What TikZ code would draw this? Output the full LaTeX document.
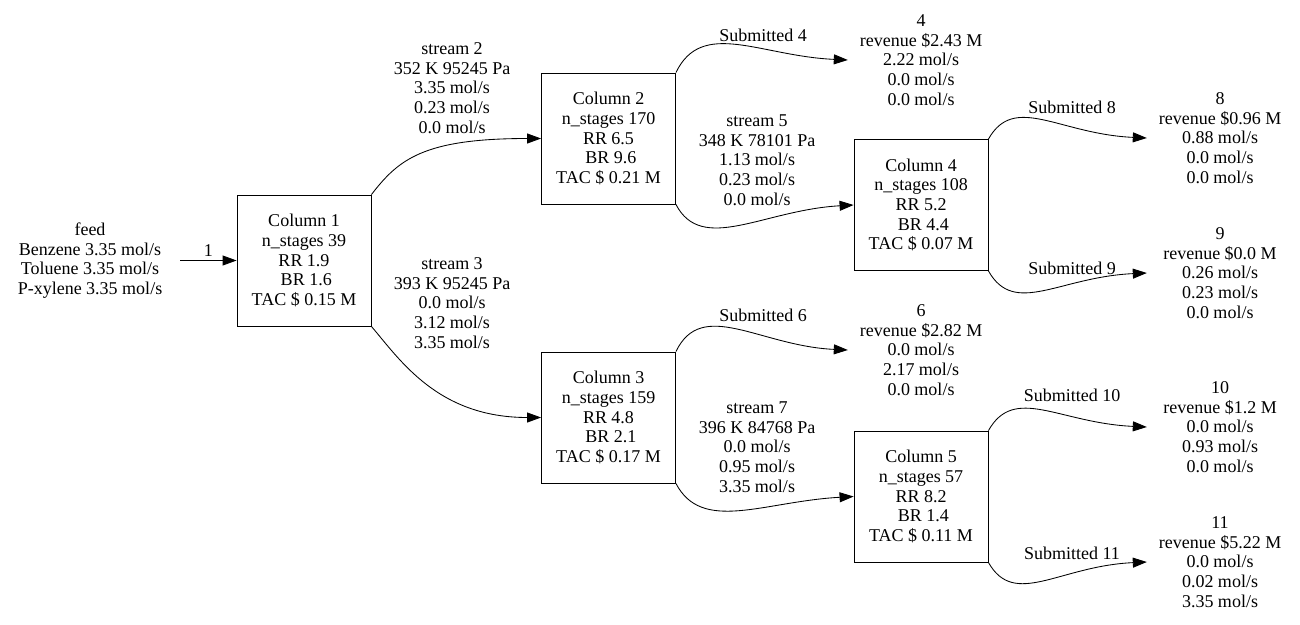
\documentclass[tikz,border=0pt]{standalone}
\usepackage{fontspec}
\setmainfont{Liberation Serif}
\usetikzlibrary{arrows.meta}
\begin{document}
\begin{tikzpicture}[x=1pt,y=-1pt,
  every node/.style={font=\fontsize{18}{19.7}\selectfont, align=center, inner sep=0pt},
  colbox/.style={draw, line width=0.85pt, minimum width=134pt, minimum height=131pt},
  outnode/.style={minimum width=146pt},
  flow/.style={line width=0.85pt, -{Triangle[length=14pt,width=10pt]}}]
\useasboundingbox (0,0) rectangle (1300,624);

% feed and columns
\node[minimum width=180pt] (feed) at (90,260.5) {feed\\Benzene 3.35 mol/s\\Toluene 3.35 mol/s\\P-xylene 3.35 mol/s};
\node[colbox] (c1) at (304,260.5) {Column 1\\n\_stages 39\\RR 1.9\\\hspace*{4.5pt}BR 1.6\\TAC \$ 0.15 M};
\node[colbox] (c2) at (608.5,138.5) {Column 2\\n\_stages 170\\RR 6.5\\\hspace*{4.5pt}BR 9.6\\TAC \$ 0.21 M};
\node[colbox] (c3) at (608.5,417.5) {Column 3\\n\_stages 159\\RR 4.8\\\hspace*{4.5pt}BR 2.1\\TAC \$ 0.17 M};
\node[colbox] (c4) at (921,205) {Column 4\\n\_stages 108\\RR 5.2\\\hspace*{4.5pt}BR 4.4\\TAC \$ 0.07 M};
\node[colbox] (c5) at (921,496.5) {Column 5\\n\_stages 57\\RR 8.2\\\hspace*{4.5pt}BR 1.4\\TAC \$ 0.11 M};

% products
\node[outnode] (o4) at (921,60) {4\\revenue \$2.43 M\\2.22 mol/s\\0.0 mol/s\\0.0 mol/s};
\node[outnode] (o6) at (921,350) {6\\revenue \$2.82 M\\0.0 mol/s\\2.17 mol/s\\0.0 mol/s};
\node[outnode] (o8) at (1220,138) {8\\revenue \$0.96 M\\0.88 mol/s\\0.0 mol/s\\0.0 mol/s};
\node[outnode] (o9) at (1220,273) {9\\revenue \$0.0 M\\0.26 mol/s\\0.23 mol/s\\0.0 mol/s};
\node[outnode] (o10) at (1220,427) {10\\revenue \$1.2 M\\0.0 mol/s\\0.93 mol/s\\0.0 mol/s};
\node[outnode] (o11) at (1220,562) {11\\revenue \$5.22 M\\0.0 mol/s\\0.02 mol/s\\3.35 mol/s};

% stream labels
\node (s2) at (452,88) {stream 2\\352 K 95245 Pa\\3.35 mol/s\\0.23 mol/s\\0.0 mol/s};
\node (s3) at (452,303) {stream 3\\393 K 95245 Pa\\0.0 mol/s\\3.12 mol/s\\3.35 mol/s};
\node (s5) at (757,160) {stream 5\\348 K 78101 Pa\\1.13 mol/s\\0.23 mol/s\\0.0 mol/s};
\node (s7) at (757,447) {stream 7\\396 K 84768 Pa\\0.0 mol/s\\0.95 mol/s\\3.35 mol/s};
\node (l4) at (763,35) {Submitted 4};
\node (l6) at (763,315) {Submitted 6};
\node (l8) at (1072,107) {Submitted 8};
\node (l9) at (1072,268) {Submitted 9};
\node (l10) at (1072,395) {Submitted 10};
\node (l11) at (1072,553) {Submitted 11};

% connectors
\draw[flow] (feed.east) -- node[above=4pt] (l1) {1} (c1.west);
\draw[flow] (c1.north east) .. controls +(27,-35) and +(-118,0) .. (c2.west);
\draw[flow] (c1.south east) .. controls +(29,34) and +(-103,0) .. (c3.west);
\draw[flow] (c2.north east) .. controls +(26,-54) and +(-88,-4) .. (o4.west);
\draw[flow] (c2.south east) .. controls +(26,50) and +(-90,5) .. (c4.west);
\draw[flow] (c3.north east) .. controls +(26,-54) and +(-88,-4) .. (o6.west);
\draw[flow] (c3.south east) .. controls +(26,50) and +(-90,5) .. (c5.west);
\draw[flow] (c4.north east) .. controls +(26,-46) and +(-88,-4) .. (o8.west);
\draw[flow] (c4.south east) .. controls +(26,46) and +(-88,4) .. (o9.west);
\draw[flow] (c5.north east) .. controls +(26,-46) and +(-88,-4) .. (o10.west);
\draw[flow] (c5.south east) .. controls +(26,46) and +(-88,4) .. (o11.west);
\end{tikzpicture}
\end{document}
